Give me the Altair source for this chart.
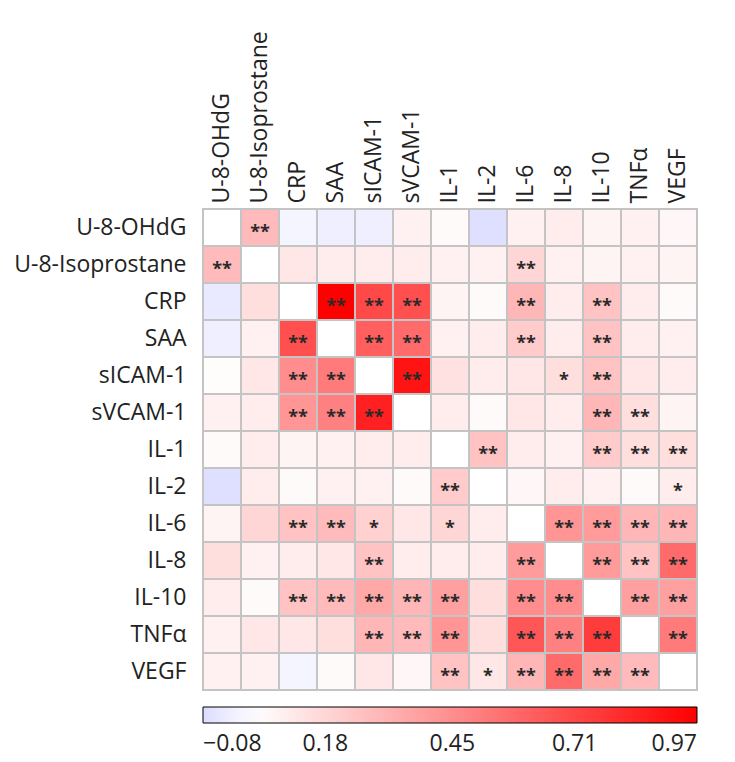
import altair as alt
import pandas as pd

names = ["U-8-OHdG", "U-8-Isoprostane", "CRP", "SAA", "sICAM-1", "sVCAM-1",
         "IL-1", "IL-2", "IL-6", "IL-8", "IL-10", "TNFα", "VEGF"]

# correlation values per row (diagonal = None, drawn white)
corr = [
    [None, 0.28, 0.00, -0.02, -0.02, 0.08, 0.05, -0.07, 0.08, 0.10, 0.07, 0.08, 0.06],
    [0.28, None, 0.12, 0.10, 0.10, 0.10, 0.08, 0.08, 0.18, 0.08, 0.07, 0.08, 0.07],
    [-0.04, 0.15, None, 0.97, 0.70, 0.68, 0.07, 0.05, 0.30, 0.10, 0.25, 0.10, 0.05],
    [-0.02, 0.08, 0.68, None, 0.62, 0.58, 0.08, 0.10, 0.22, 0.10, 0.25, 0.10, 0.08],
    [0.04, 0.12, 0.45, 0.52, None, 0.90, 0.14, 0.10, 0.12, 0.15, 0.25, 0.12, 0.10],
    [0.08, 0.10, 0.42, 0.50, 0.85, None, 0.10, 0.05, 0.12, 0.10, 0.30, 0.15, 0.07],
    [0.05, 0.10, 0.07, 0.08, 0.10, 0.10, None, 0.25, 0.10, 0.08, 0.22, 0.15, 0.15],
    [-0.07, 0.10, 0.05, 0.08, 0.08, 0.05, 0.22, None, 0.06, 0.10, 0.08, 0.05, 0.10],
    [0.07, 0.18, 0.25, 0.28, 0.20, 0.12, 0.18, 0.10, None, 0.42, 0.40, 0.30, 0.30],
    [0.15, 0.08, 0.10, 0.12, 0.25, 0.10, 0.10, 0.10, 0.40, None, 0.40, 0.25, 0.58],
    [0.10, 0.05, 0.25, 0.28, 0.35, 0.30, 0.38, 0.15, 0.45, 0.45, None, 0.38, 0.38],
    [0.08, 0.12, 0.12, 0.15, 0.30, 0.28, 0.42, 0.15, 0.65, 0.50, 0.75, None, 0.52],
    [0.08, 0.08, 0.00, 0.05, 0.12, 0.06, 0.25, 0.12, 0.30, 0.58, 0.35, 0.28, None],
]

# significance markers per row
sig = [
    ["", "**", "", "", "", "", "", "", "", "", "", "", ""],
    ["**", "", "", "", "", "", "", "", "**", "", "", "", ""],
    ["", "", "", "**", "**", "**", "", "", "**", "", "**", "", ""],
    ["", "", "**", "", "**", "**", "", "", "**", "", "**", "", ""],
    ["", "", "**", "**", "", "**", "", "", "", "*", "**", "", ""],
    ["", "", "**", "**", "**", "", "", "", "", "", "**", "**", ""],
    ["", "", "", "", "", "", "", "**", "", "", "**", "**", "**"],
    ["", "", "", "", "", "", "**", "", "", "", "", "", "*"],
    ["", "", "**", "**", "*", "", "*", "", "", "**", "**", "**", "**"],
    ["", "", "", "", "**", "", "", "", "**", "", "**", "**", "**"],
    ["", "", "**", "**", "**", "**", "**", "", "**", "**", "", "**", "**"],
    ["", "", "", "", "**", "**", "**", "", "**", "**", "**", "", "**"],
    ["", "", "", "", "", "", "**", "*", "**", "**", "**", "**", ""],
]

legend_values = [-0.08, 0.18, 0.45, 0.71, 0.97]

rows = []
for i, rn in enumerate(names):
    for j, cn in enumerate(names):
        rows.append({"row": rn, "col": cn, "v": corr[i][j], "s": sig[i][j]})
df = pd.DataFrame(rows)

FONT = "Open Sans"
FS = 23

xenc = alt.X("col:N", sort=names, title=None,
             scale=alt.Scale(paddingInner=0, paddingOuter=0),
             axis=alt.Axis(orient="top", labelAngle=-90, domain=False, ticks=False,
                           labelPadding=6, labelFontSize=FS, labelFont=FONT,
                           labelColor="#222222"))
yenc = alt.Y("row:N", sort=names, title=None,
             scale=alt.Scale(paddingInner=0, paddingOuter=0),
             axis=alt.Axis(orient="left", domain=False, ticks=False,
                           labelPadding=17, labelFontSize=FS, labelFont=FONT,
                           labelColor="#222222"))

color_scale = alt.Scale(domain=[-0.08, 0.03, 0.97],
                        range=["#dcdcff", "#ffffff", "#ff0000"],
                        interpolate="rgb")

base = alt.Chart(df)

bg = base.mark_rect(fill="white", stroke="#c4c4c4", strokeWidth=2).encode(
    x=xenc, y=yenc)

cells = base.transform_filter("datum.v != null").mark_rect(
    stroke="#c4c4c4", strokeWidth=2).encode(
    x=xenc, y=yenc,
    color=alt.Color("v:Q", scale=color_scale,
                    legend=alt.Legend(orient="none", legendX=0, legendY=498,
                                      direction="horizontal", title=None,
                                      gradientLength=494, gradientThickness=16,
                                      gradientStrokeColor="black",
                                      gradientStrokeWidth=1,
                                      values=legend_values, format=".2f",
                                      labelAlign="center", labelOffset=10,
                                      labelFontSize=FS, labelFont=FONT,
                                      labelColor="#222222")))

stars = base.mark_text(fontSize=18, font=FONT, fontWeight="bold",
                       color="#2a2a2a", dy=5, baseline="middle").encode(
    x=xenc, y=yenc, text="s:N")

chart = alt.layer(bg, cells, stars).properties(
    width=494, height=481,
    autosize=alt.AutoSizeParams(type="none"),
    padding={"left": 195, "top": 201, "right": 30, "bottom": 70},
).configure_view(stroke=None)

chart.save("out.html", embed_options={"renderer": "svg", "actions": False})
